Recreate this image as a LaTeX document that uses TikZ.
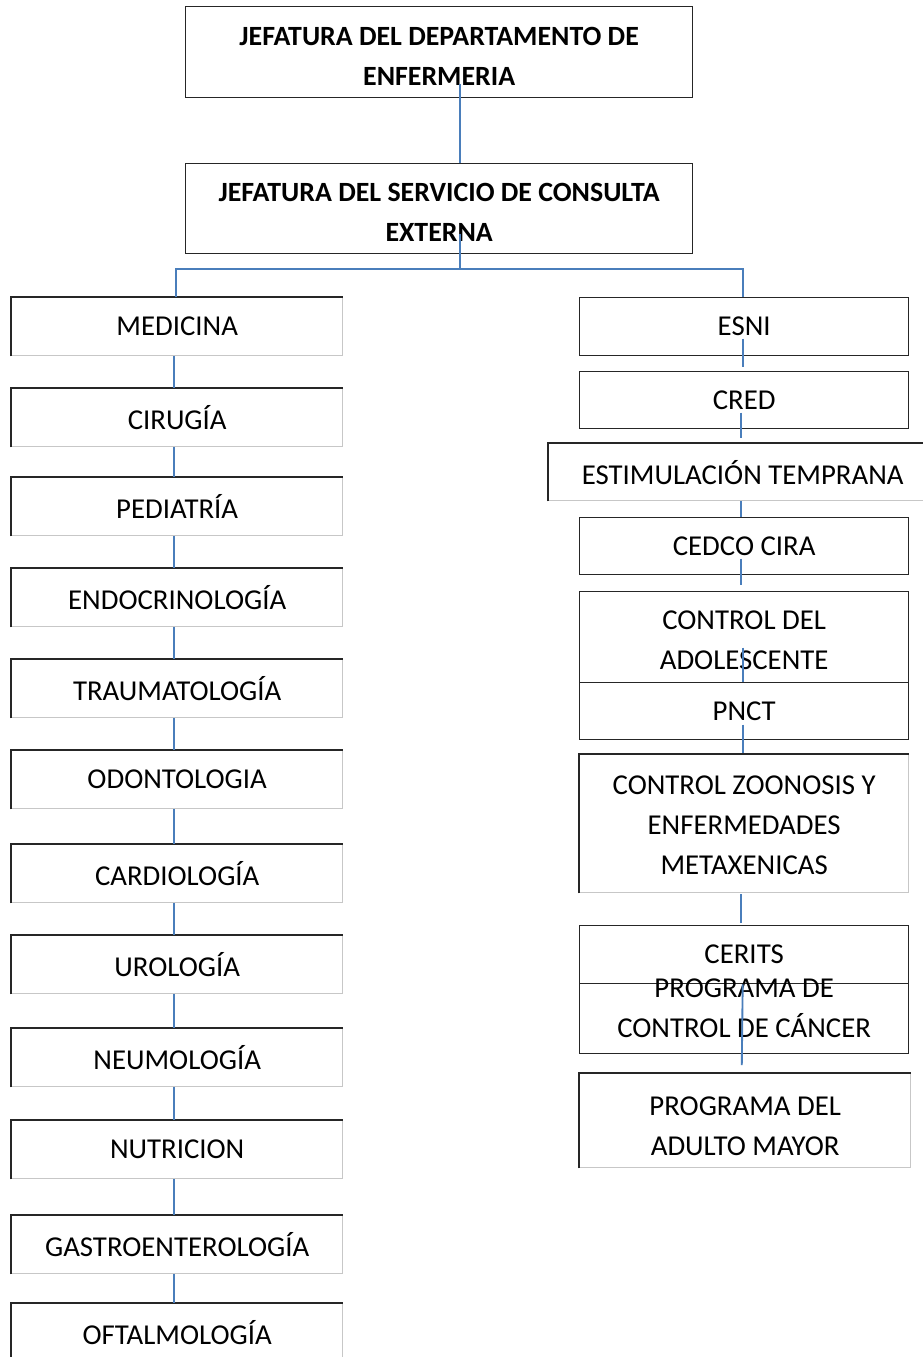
\documentclass[tikz,border=0pt]{standalone}
\usepackage{fontspec}
\setmainfont{Carlito}
\definecolor{connblue}{RGB}{74,126,187}
\begin{document}
\begin{tikzpicture}[x=0.75pt,y=-0.75pt,
  every node/.style={font=\fontsize{21.6}{30}\selectfont, align=center, inner sep=0pt},
  bx/.style 2 args={anchor=north west, minimum width=#1*0.75pt, minimum height=#2*0.75pt},
  head/.style={font=\fontsize{20.9}{30}\selectfont\bfseries},
  fullbox/.style={draw=black!85, line width=1pt},
  fadebox/.style={draw=black!22, line width=1pt},
  edge/.style={draw=black!85, line width=1pt},
  conn/.style={draw=connblue, line width=1.4pt}]
\useasboundingbox (0,0) rectangle (923,1357);
\clip (0,0) rectangle (923,1357);
% header boxes
\node[bx={507}{91}, fullbox, head] (j1) at (185,6) {};
\node[head, anchor=center] (j1t) at ([yshift=-3pt]j1.center) {JEFATURA DEL DEPARTAMENTO DE\\ENFERMERIA};
\node[bx={507}{90}, fullbox, head] (j2) at (185,163) {};
\node[head, anchor=center] (j2t) at ([yshift=-3pt]j2.center) {JEFATURA DEL SERVICIO DE CONSULTA\\EXTERNA};
% left column
\node[bx={331}{58}, fadebox] (med) at (11,297) {MEDICINA};
\node[bx={331}{58}, fadebox] (cir) at (11,388) {CIRUGÍA};
\node[bx={331}{58}, fadebox] (ped) at (11,477) {PEDIATRÍA};
\node[bx={331}{58}, fadebox] (endo) at (11,568) {ENDOCRINOLOGÍA};
\node[bx={331}{58}, fadebox] (trau) at (11,659) {TRAUMATOLOGÍA};
\node[bx={331}{58}, fadebox] (odon) at (11,750) {ODONTOLOGIA};
\node[bx={331}{58}, fadebox] (card) at (11,844) {CARDIOLOGÍA};
\node[bx={331}{58}, fadebox] (uro) at (11,935) {UROLOGÍA};
\node[bx={331}{58}, fadebox] (neum) at (11,1028) {NEUMOLOGÍA};
\node[bx={331}{58}, fadebox] (nutr) at (11,1120) {NUTRICION};
\node[bx={331}{58}, fadebox] (gast) at (11,1215) {GASTROENTEROLOGÍA};
\node[bx={331}{58}, fadebox] (ofta) at (11,1303) {OFTALMOLOGÍA};
% right column
\node[bx={329}{58}, fullbox] (esni) at (579,297) {ESNI};
\node[bx={329}{57}, fullbox] (cred) at (579,371) {CRED};
\node[bx={388}{57}, fadebox] (estim) at (548,443) {ESTIMULACIÓN TEMPRANA};
\node[bx={329}{57}, fullbox] (cedco) at (579,517) {CEDCO CIRA};
\node[bx={329}{91}, fullbox] (adol) at (579,591) {};
\node[anchor=center] (adolt) at ([yshift=-2.5pt]adol.center) {CONTROL DEL\\ADOLESCENTE};
\node[bx={329}{57}, fullbox] (pnct) at (579,682) {PNCT};
\node[bx={329}{138}, fadebox] (zoon) at (579,754) {};
\node[anchor=center] (zoont) at ([yshift=-1.5pt]zoon.center) {CONTROL ZOONOSIS Y\\ENFERMEDADES\\METAXENICAS};
\node[bx={329}{58}, fullbox] (cerits) at (579,925) {CERITS};
\node[bx={329}{70}, fullbox] (cancer) at (579,983) {};
\node[anchor=center] (cancert) at ([yshift=7.5pt]cancer.center) {PROGRAMA DE\\CONTROL DE CÁNCER};
\node[bx={331}{94}, fadebox] (adulto) at (579,1073) {};
\node[anchor=center] (adultot) at ([yshift=-4.5pt]adulto.center) {PROGRAMA DEL\\ADULTO MAYOR};
% dark top and left edges of faded boxes
\foreach \n in {med,cir,ped,endo,trau,odon,card,uro,neum,nutr,gast,ofta,estim,zoon,adulto}
  \draw[edge] (\n.south west) -- (\n.north west) -- (\n.north east);
% connectors: header
\coordinate (c1) at ([xshift=15.4pt,yshift=-23.6pt]j1.center);
\draw[conn] (c1) -- (c1 |- j2.north);
\coordinate (c2) at ([xshift=15.4pt,yshift=-18.75pt]j2.center);
\coordinate (jn) at ([yshift=-11.25pt]j2.south -| c2);
\draw[conn] (c2) -- (jn);
\draw[conn] ([xshift=-1.1pt]med.north) |- (jn) -| ([xshift=-1.1pt]esni.north);
% connectors: left column
\foreach \a/\b in {med/cir,cir/ped,ped/endo,endo/trau,trau/odon,odon/card,card/uro,uro/neum,neum/nutr,nutr/gast,gast/ofta}
  \draw[conn] ([xshift=-2.6pt]\a.south) -- ([xshift=-2.6pt]\b.north);
% connectors: right column
\draw[conn, shorten >=3pt] ([xshift=-1.1pt,yshift=-9pt]esni.center) -- ([xshift=-1.1pt]cred.north);
\coordinate (c3) at ([xshift=-2.6pt,yshift=-9.4pt]cred.center);
\draw[conn, shorten >=3.7pt] (c3) -- (estim.north -| c3);
\coordinate (c4) at ([xshift=-2.6pt]cedco.north);
\draw[conn] (estim.south -| c4) -- (c4);
\draw[conn, shorten >=4.5pt] ([xshift=-2.6pt,yshift=-9.4pt]cedco.center) -- ([xshift=-2.6pt]adol.north);
\draw[conn] ([xshift=-1.1pt,yshift=-7.9pt]adol.center) -- ([xshift=-1.1pt]pnct.north);
\draw[conn, shorten >=0.7pt] ([xshift=-1.1pt,yshift=-10.1pt]pnct.center) -- ([xshift=-1.1pt]zoon.north);
\draw[conn, shorten <=0.7pt, shorten >=1.5pt] ([xshift=-2.6pt]zoon.south) -- ([xshift=-2.6pt]cerits.north);
\draw[conn, shorten >=6pt] ([xshift=-1.1pt]cerits.south) -- ([xshift=-2.6pt]adulto.north);
\end{tikzpicture}
\end{document}
